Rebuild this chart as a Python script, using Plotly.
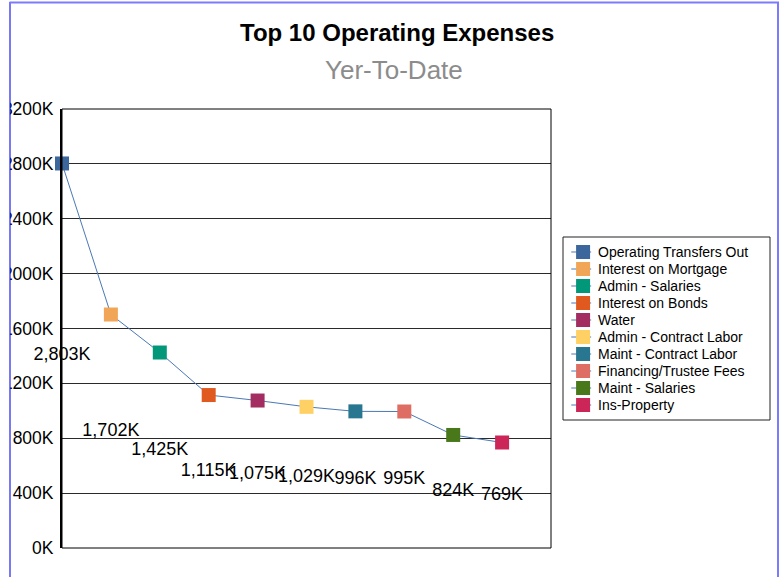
import plotly.graph_objects as go

categories = ["Operating Transfers Out", "Interest on Mortgage", "Admin - Salaries",
              "Interest on Bonds", "Water", "Admin - Contract Labor",
              "Maint - Contract Labor", "Financing/Trustee Fees", "Maint - Salaries",
              "Ins-Property"]
values_k = [2803, 1702, 1425, 1115, 1075, 1029, 996, 995, 824, 769]
colors = ["#3C679C", "#F0A656", "#009878", "#E05A20", "#A32D61",
          "#FFD064", "#287690", "#DE6E63", "#48781A", "#CC2558"]
tick_vals = [0, 400, 800, 1200, 1600, 2000, 2400, 2800, 3200]
tick_text = [f"{t}K" for t in tick_vals]
title = "Top 10 Operating Expenses"
subtitle = "Yer-To-Date"

FONT = "Liberation Sans, Arial, sans-serif"
W, H = 782, 577
ML, MR, MT, MB = 62, 11, 109, 29
plot_w = W - ML - MR           # 709
main_w = 489
plot_h = H - MT - MB           # 439

def px_x(p):  # pixel x -> paper
    return (p - ML) / plot_w

def px_y(p):  # pixel y -> paper
    return (H - MB - p) / plot_h

idx = list(range(len(categories)))
fig = go.Figure()

# main line with markers
fig.add_trace(go.Scatter(
    x=idx, y=values_k, mode="lines+markers",
    line=dict(color="#4A78B5", width=1),
    marker=dict(symbol="square", size=14, color=colors, line=dict(width=0)),
    cliponaxis=False, showlegend=False, hoverinfo="skip"))

# data labels (placed at half of the value, as in the source chart)
fig.add_trace(go.Scatter(
    x=idx, y=[v / 2 for v in values_k], mode="text",
    text=[f"{v:,}K" for v in values_k], textposition="middle center",
    textfont=dict(family=FONT, size=18, color="#000"),
    cliponaxis=False, showlegend=False, hoverinfo="skip"))

# custom legend on secondary axes
n = len(categories)
lx0, lx1, mx, tx = 0.04, 0.136, 0.097, 0.16
seg_x, seg_y = [], []
for i in idx:
    seg_x += [lx0, lx1, None]
    seg_y += [i, i, None]
fig.add_trace(go.Scatter(
    x=seg_x, y=seg_y, mode="lines", xaxis="x2", yaxis="y2",
    line=dict(color="#4A78B5", width=1), showlegend=False, hoverinfo="skip"))
fig.add_trace(go.Scatter(
    x=[mx] * n, y=idx, mode="markers", xaxis="x2", yaxis="y2",
    marker=dict(symbol="square", size=14, color=colors, line=dict(width=0)),
    showlegend=False, hoverinfo="skip"))

annotations = []
for i, name in enumerate(categories):
    annotations.append(dict(x=tx, y=i, xref="x2", yref="y2", text=name,
                            showarrow=False, xanchor="left", yanchor="middle",
                            font=dict(family=FONT, size=14, color="#000")))

annotations.append(dict(x=px_x(396.5), y=px_y(33), xref="paper", yref="paper",
                        text=f"<b>{title}</b>", showarrow=False,
                        xanchor="center", yanchor="middle",
                        font=dict(family=FONT, size=24, color="#000")))
annotations.append(dict(x=px_x(393.5), y=px_y(70), xref="paper", yref="paper",
                        text=subtitle, showarrow=False,
                        xanchor="center", yanchor="middle",
                        font=dict(family=FONT, size=26, color="#8C8C8C")))

shapes = [
    # plot frame
    dict(type="rect", xref="x domain", yref="y domain", x0=0, x1=1, y0=0, y1=1,
         line=dict(color="#000", width=1), layer="above"),
    # legend box
    dict(type="rect", xref="x2 domain", yref="y2 domain", x0=0, x1=1, y0=0, y1=1,
         line=dict(color="#222", width=1), layer="above"),
    # clip tick labels on the far left
    dict(type="rect", xref="paper", yref="paper", x0=px_x(-5), x1=px_x(10),
         y0=px_y(H + 5), y1=px_y(-5), fillcolor="#FFFFFF",
         line=dict(width=0), layer="above"),
    # page frame
    dict(type="line", xref="paper", yref="paper", x0=px_x(10), x1=px_x(10),
         y0=px_y(2), y1=px_y(H + 2), line=dict(color="#1F1FF0", width=1.2), layer="above"),
    dict(type="line", xref="paper", yref="paper", x0=px_x(9.5), x1=px_x(779),
         y0=px_y(2.5), y1=px_y(2.5), line=dict(color="#7B7BFF", width=2), layer="above"),
    dict(type="line", xref="paper", yref="paper", x0=px_x(778), x1=px_x(778),
         y0=px_y(2), y1=px_y(H + 2), line=dict(color="#7B7BFF", width=2), layer="above"),
]

fig.update_layout(
    width=W, height=H,
    margin=dict(l=ML, r=MR, t=MT, b=MB, pad=0, autoexpand=False),
    paper_bgcolor="#FFFFFF", plot_bgcolor="#FFFFFF",
    font=dict(family=FONT, color="#000"),
    showlegend=False,
    xaxis=dict(domain=[0, main_w / plot_w], range=[0, 10], showticklabels=False,
               showgrid=False, zeroline=False, showline=False, ticks="",
               fixedrange=True, automargin=False),
    yaxis=dict(range=[0, 3200], tickvals=tick_vals, ticktext=tick_text,
               tickfont=dict(family=FONT, size=17.5, color="#000"),
               showgrid=True, gridcolor="#2A2A2A", gridwidth=1,
               zeroline=False, showline=True, linecolor="#000", linewidth=2,
               ticks="", ticklabelstandoff=3, fixedrange=True, automargin=False),
    xaxis2=dict(domain=[px_x(563), px_x(770)], range=[0, 1], visible=False,
                anchor="y2", fixedrange=True),
    yaxis2=dict(domain=[px_y(420), px_y(237)], range=[9.882, -0.882], visible=False,
                anchor="x2", fixedrange=True),
    annotations=annotations,
    shapes=shapes,
)

fig.write_html("out.html")
